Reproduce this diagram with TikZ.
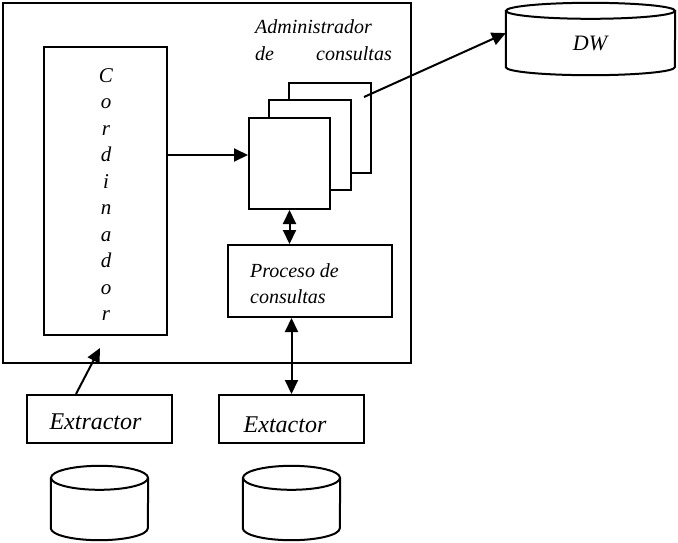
\documentclass[tikz,border=0pt]{standalone}
\usepackage{fontspec}
\setmainfont{Liberation Serif}
\usetikzlibrary{arrows.meta,calc}
% cylinder outline around an invisible node: #1 node, #2 x radius, #3 y radius
\newcommand\cylpath[3]{%
  \draw[line width=2pt] ([yshift=-#3pt]#1.north) ellipse[x radius=#2pt, y radius=#3pt];
  \draw[line width=2pt] ([yshift=-#3pt]#1.north west) -- ([yshift=#3pt]#1.south west)
    arc[start angle=180, end angle=360, x radius=#2pt, y radius=#3pt]
    -- ([yshift=-#3pt]#1.north east);
}
\begin{document}
\begin{tikzpicture}[x=1pt,y=-1pt,
  box/.style={draw, line width=2pt, rectangle, inner sep=0pt},
  area/.style={rectangle, inner sep=0pt},
  lbl/.style={inner sep=0pt, font=\itshape\fontsize{20}{24}\selectfont},
  biglbl/.style={inner sep=0pt, font=\itshape\fontsize{24}{28}\selectfont},
  conn/.style={line width=2pt, -{Triangle[length=14pt,width=13pt]}},
  dconn/.style={line width=2pt, {Triangle[length=14pt,width=13pt]}-{Triangle[length=14pt,width=13pt]}},
]
\useasboundingbox (0,0) rectangle (678,542);

% enclosing system
\node[box, minimum width=408pt, minimum height=360pt] (outer) at (207,183) {};

% coordinator with vertical lettering
\node[box, minimum width=123pt, minimum height=288pt] (coord) at (105.5,191) {};
\foreach \ch [count=\i from 0] in {C,o,r,d,i,n,a,d,o,r}
  \node[lbl, font=\itshape\fontsize{21}{24}\selectfont, anchor=base] (cl\i) at (106,82+26.5*\i) {\ch};

% stacked query managers
\node[box, fill=white, minimum width=82pt, minimum height=90pt] (back) at (330,128) {};
\node[box, fill=white, minimum width=82pt, minimum height=90pt] (mid) at (310,145) {};
\node[box, fill=white, minimum width=81pt, minimum height=91pt] (front) at (289.5,163.5) {};
\node[lbl, anchor=base west] (adm1) at (255,33) {Administrador};
\node[lbl, anchor=base west] (adm2) at (255,60) {de};
\node[lbl, anchor=base east] (adm3) at (392,60) {consultas};

% query processing
\node[box, minimum width=164pt, minimum height=72pt] (proc) at (310,281) {};
\node[lbl, anchor=base west] (p1) at (250,277) {Proceso de};
\node[lbl, anchor=base west] (p2) at (250,303) {consultas};

% extractors
\node[box, minimum width=145pt, minimum height=48pt] (ext1) at (99.5,419) {};
\node[biglbl, anchor=base] (ext1t) at (95.5,429) {Extractor};
\node[box, minimum width=145pt, minimum height=48pt] (ext2) at (291.5,419) {};
\node[biglbl, anchor=base] (ext2t) at (285,432) {Extactor};

% data stores
\node[area, minimum width=169pt, minimum height=72pt] (dw) at (590.5,39) {};
\cylpath{dw}{84.5}{8}
\node[lbl, font=\itshape\fontsize{22}{24}\selectfont] (dwt) at (590,43) {DW};
\node[area, minimum width=97pt, minimum height=74pt] (db1) at (99.5,503) {};
\cylpath{db1}{48.5}{12}
\node[area, minimum width=97pt, minimum height=74pt] (db2) at (291.5,503) {};
\cylpath{db2}{48.5}{12}

% connectors
\draw[conn] ([xshift=-8pt,yshift=-15pt]back.north east) -- (dw.176);
\coordinate (c1) at ([yshift=36pt]coord.east);
\draw[conn] (c1) -- (c1 -| front.west);
\draw[dconn] (front.south) -- (front.south |- proc.north);
\draw[dconn] (ext2.north |- proc.south) -- (ext2.north);
\draw[conn] ([xshift=-23.5pt]ext1.north) -- ([xshift=-5.5pt,yshift=-12pt]coord.south);
\end{tikzpicture}
\end{document}
